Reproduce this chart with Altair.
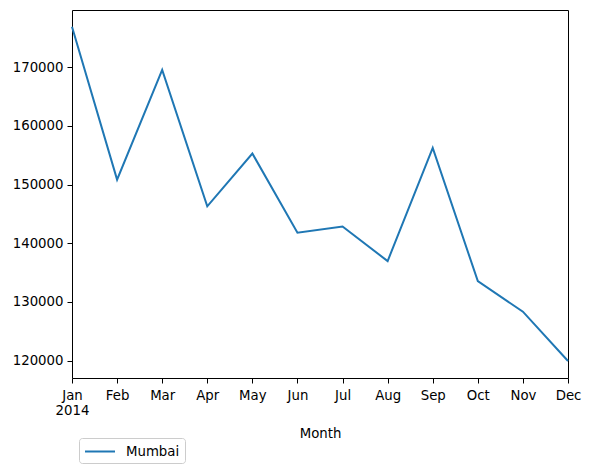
import altair as alt
import pandas as pd

months = ["Jan", "Feb", "Mar", "Apr", "May", "Jun", "Jul", "Aug", "Sep", "Oct", "Nov", "Dec"]
mumbai = [176900, 150850, 169550, 146300, 155300, 141800, 142850, 136970,
          156250, 133550, 128350, 119950]
y_ticks = [120000, 130000, 140000, 150000, 160000, 170000]

df = pd.DataFrame({"Month": months, "value": mumbai, "city": "Mumbai"})

FONT = "DejaVu Sans"

chart = (
    alt.Chart(df)
    .mark_line(strokeWidth=2)
    .encode(
        x=alt.X(
            "Month:O",
            sort=months,
            title="Month",
            scale=alt.Scale(type="point", padding=0),
            axis=alt.Axis(
                labelAngle=0,
                labelExpr="datum.value == 'Jan' ? ['Jan', '2014'] : datum.value",
                labelFontSize=13.3,
                labelColor="black",
                labelPadding=5,
                tickColor="black",
                tickSize=5,
                domain=False,
                titleFontSize=13.3,
                titleFontWeight="normal",
                titleColor="black",
                titlePadding=10,
            ),
        ),
        y=alt.Y(
            "value:Q",
            title=None,
            scale=alt.Scale(domain=[117050, 179750], nice=False, zero=False),
            axis=alt.Axis(
                values=y_ticks,
                format="d",
                labelFontSize=13.3,
                labelColor="black",
                labelPadding=4,
                tickColor="black",
                tickSize=5,
                domain=False,
                grid=False,
            ),
        ),
        color=alt.Color(
            "city:N",
            scale=alt.Scale(domain=["Mumbai"], range=["#1f77b4"]),
            legend=alt.Legend(
                title=None,
                orient="none",
                legendX=7,
                legendY=428,
                symbolType="M-1,0H3",
                symbolSize=225,
                symbolStrokeWidth=2,
                symbolFillColor="transparent",
                labelFontSize=13.3,
                labelColor="black",
                labelOffset=25,
                strokeColor="#cccccc",
                fillColor="white",
                cornerRadius=3,
                padding=5,
            ),
        ),
    )
    .properties(
        width=496,
        height=368,
        autosize=alt.AutoSizeParams(type="none"),
        padding={"left": 64, "top": 2, "right": 15, "bottom": 90},
    )
    .configure(font=FONT)
    .configure_axis(grid=False)
    .configure_view(stroke="black", strokeWidth=1)
)

chart.save("out.html", embed_options={"renderer": "svg", "actions": False})
